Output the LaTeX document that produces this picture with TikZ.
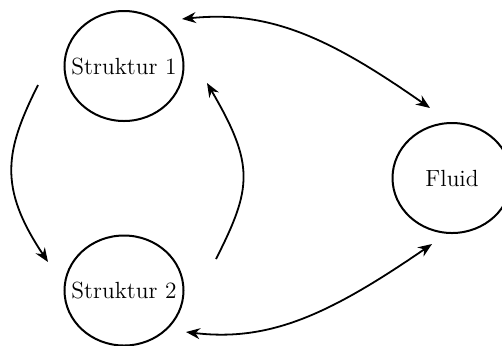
\documentclass[tikz,border=0pt]{standalone}
\usetikzlibrary{shapes.geometric,arrows.meta}
\begin{document}
\begin{tikzpicture}[x=0.5pt,y=-0.5pt,
  blob/.style={draw,ellipse,line width=1pt,inner sep=0pt,minimum width=59.5pt,minimum height=55pt,font=\fontsize{11.7}{13}\selectfont},
  conn/.style={line width=0.9pt,-{Stealth[length=7pt,width=5.5pt]}},
  dconn/.style={line width=0.9pt,{Stealth[length=7pt,width=5.5pt]}-{Stealth[length=7pt,width=5.5pt]}}]
\useasboundingbox (0,0) rectangle (502,345);
\clip (0,0) rectangle (502,345);
\node[blob] (S1) at (124,66) {\makebox[0pt]{Struktur 1}};
\node[blob] (S2) at (124,290.5) {\makebox[0pt]{Struktur 2}};
\node[blob] (F) at (452,178) {\makebox[0pt]{Fluid}};
\draw[conn] ([shift={(-86,19)}]S1.center) .. controls (5,151) and (-2,187) .. ([shift={(-76,-28.5)}]S2.center);
\draw[conn] ([shift={(92,-31.5)}]S2.center) .. controls (252,188) and (255,165) .. ([shift={(83,17)}]S1.center);
\draw[dconn] ([shift={(58,-47)}]S1.center) .. controls (270,10) and (330,38) .. ([shift={(-22,-70)}]F.center);
\draw[dconn] ([shift={(62,41.5)}]S2.center) .. controls (270,342) and (330,314) .. ([shift={(-20,66)}]F.center);
\end{tikzpicture}
\end{document}
